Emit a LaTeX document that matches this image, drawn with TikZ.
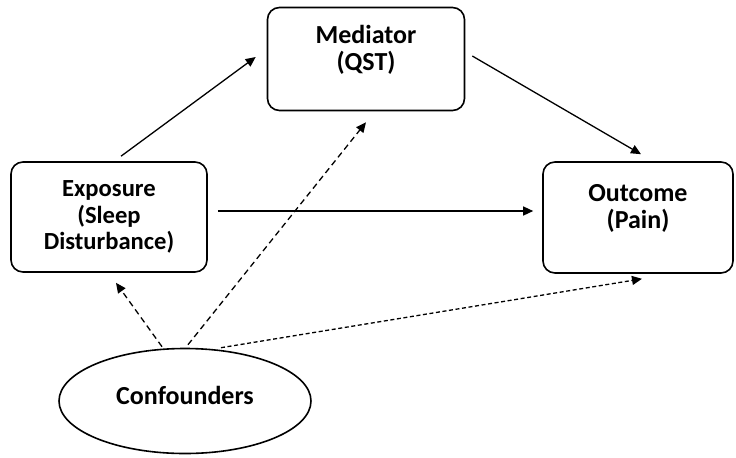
\documentclass[tikz,border=0pt]{standalone}
\usepackage{fontspec}
\setmainfont{Carlito}
\usepackage{tikz}
\usetikzlibrary{arrows.meta, positioning, shapes.geometric, calc}

\begin{document}
\begin{tikzpicture}[
  x=0.5pt, y=-0.5pt,
  box/.style={draw, rounded corners=6pt, line width=0.8pt, font=\fontsize{13}{13.5}\selectfont\bfseries, align=center},
  conf/.style={draw, ellipse, line width=0.8pt, font=\fontsize{13}{13.5}\selectfont\bfseries},
  arrow/.style={draw, line width=0.65pt, -{Triangle[length=5pt, width=4.5pt]}},
  dasharrow/.style={arrow, dash pattern=on 3pt off 2pt},
  dotarrow/.style={arrow, dash pattern=on 2pt off 1.3pt},
]
  \useasboundingbox (0,0) rectangle (736,457);

  % Nodes
  \node[box, minimum width=98.5pt, minimum height=51.5pt, text depth=11pt] (med) at (366,59) {Mediator\\(QST)};
  \node[box, minimum width=98pt, minimum height=55pt, font=\fontsize{12.3}{13.3}\selectfont\bfseries] (exp) at (109,217) {Exposure\\(Sleep\\Disturbance)};
  \node[box, minimum width=95pt, minimum height=55.5pt, text depth=11.5pt] (out) at (638,217.5) {Outcome\\(Pain)};
  \node[conf, minimum width=126pt, minimum height=52.5pt, text depth=6pt] (cnf) at (185,401) {Confounders};

  % Edges
  \draw[arrow] ($(exp.north)+(12,-5)$) -- ($(med.west)+(-11,-2)$);
  \draw[arrow] ($(med.east)+(7,-3)$) -- ($(out.north)+(3,-7)$);
  \draw[arrow] ($(exp.east)+(10,-6)$) -- ($(out.west)+(-9,-6.5)$);

  % Confounders
  \draw[dasharrow] ($(cnf.north)+(-23,-1)$) -- ($(exp.south)+(7,10)$);
  \draw[dasharrow] ($(cnf.north)+(3,-3)$) -- ($(med.south)+(0,11)$);
  \draw[dotarrow] ($(cnf.north)+(36,0)$) -- ($(out.south)+(4,5)$);
\end{tikzpicture}
\end{document}
